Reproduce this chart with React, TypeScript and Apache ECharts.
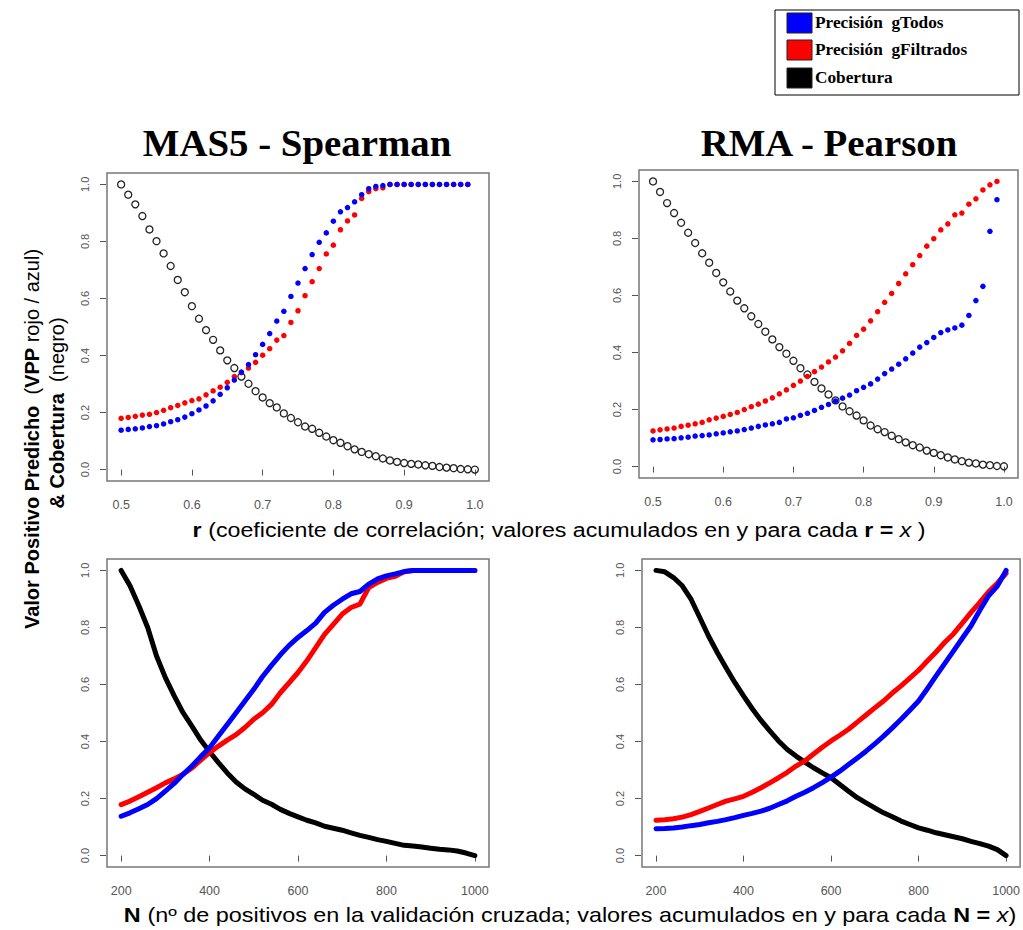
import React, { useEffect, useRef } from 'react';
import * as echarts from 'echarts';

// ---------- data ----------
const rValues = [
  0.50, 0.51, 0.52, 0.53, 0.54, 0.55, 0.56, 0.57, 0.58, 0.59,
  0.60, 0.61, 0.62, 0.63, 0.64, 0.65, 0.66, 0.67, 0.68, 0.69,
  0.70, 0.71, 0.72, 0.73, 0.74, 0.75, 0.76, 0.77, 0.78, 0.79,
  0.80, 0.81, 0.82, 0.83, 0.84, 0.85, 0.86, 0.87, 0.88, 0.89,
  0.90, 0.91, 0.92, 0.93, 0.94, 0.95, 0.96, 0.97, 0.98, 0.99, 1.00,
];

const nValues = [
  200, 220, 240, 260, 280, 300, 320, 340, 360, 380,
  400, 420, 440, 460, 480, 500, 520, 540, 560, 580,
  600, 620, 640, 660, 680, 700, 720, 740, 760, 780,
  800, 820, 840, 860, 880, 900, 920, 940, 960, 980, 1000,
];

const rTicks = [0.5, 0.6, 0.7, 0.8, 0.9, 1.0];
const nTicks = [200, 400, 600, 800, 1000];
const yTicks = [0, 0.2, 0.4, 0.6, 0.8, 1.0];

// MAS5 - Spearman (top left)
const masCobertura = [
  1.0, 0.964, 0.930, 0.889, 0.842, 0.801, 0.758, 0.714, 0.665, 0.622,
  0.573, 0.529, 0.489, 0.455, 0.418, 0.383, 0.356, 0.326, 0.301, 0.275,
  0.253, 0.233, 0.218, 0.197, 0.181, 0.166, 0.151, 0.143, 0.129, 0.116,
  0.103, 0.094, 0.082, 0.071, 0.062, 0.054, 0.047, 0.039, 0.032, 0.027,
  0.023, 0.020, 0.018, 0.015, 0.013, 0.009, 0.007, 0.005, 0.002, 0.001, 0.0,
];
const masFiltrados = [
  0.180, 0.183, 0.187, 0.191, 0.194, 0.200, 0.208, 0.217, 0.225, 0.234,
  0.242, 0.248, 0.262, 0.276, 0.289, 0.306, 0.326, 0.340, 0.356, 0.376,
  0.401, 0.424, 0.454, 0.470, 0.516, 0.557, 0.610, 0.659, 0.705, 0.756,
  0.787, 0.841, 0.872, 0.893, 0.951, 0.975, 0.985, 0.988, 1.0, 1.0,
  1.0, 1.0, 1.0, 1.0, 1.0, 1.0, 1.0, 1.0, 1.0, 1.0,
];
const masTodos = [
  0.138, 0.141, 0.143, 0.146, 0.151, 0.154, 0.160, 0.168, 0.175, 0.184,
  0.196, 0.209, 0.223, 0.241, 0.264, 0.287, 0.314, 0.342, 0.368, 0.403,
  0.439, 0.477, 0.521, 0.555, 0.607, 0.654, 0.705, 0.754, 0.797, 0.830,
  0.871, 0.904, 0.919, 0.939, 0.964, 0.985, 0.993, 0.996, 1.0, 1.0,
  1.0, 1.0, 1.0, 1.0, 1.0, 1.0, 1.0, 1.0, 1.0, 1.0,
];

// RMA - Pearson (top right)
const rmaCobertura = [
  1.0, 0.963, 0.924, 0.889, 0.855, 0.820, 0.784, 0.748, 0.715, 0.679,
  0.646, 0.614, 0.582, 0.555, 0.527, 0.500, 0.473, 0.446, 0.419, 0.396,
  0.371, 0.345, 0.323, 0.297, 0.274, 0.253, 0.232, 0.211, 0.194, 0.179,
  0.162, 0.144, 0.131, 0.121, 0.108, 0.096, 0.085, 0.075, 0.067, 0.056,
  0.048, 0.040, 0.032, 0.025, 0.019, 0.014, 0.011, 0.007, 0.005, 0.002, 0.001,
];
const rmaFiltrados = [
  0.125, 0.129, 0.132, 0.135, 0.141, 0.145, 0.150, 0.155, 0.164, 0.170,
  0.176, 0.183, 0.190, 0.200, 0.210, 0.219, 0.230, 0.241, 0.255, 0.269,
  0.285, 0.300, 0.316, 0.333, 0.349, 0.367, 0.384, 0.406, 0.432, 0.460,
  0.482, 0.511, 0.543, 0.576, 0.607, 0.642, 0.676, 0.708, 0.740, 0.773,
  0.799, 0.830, 0.851, 0.883, 0.889, 0.920, 0.939, 0.970, 0.988, 1.0,
];
const rmaTodos = [
  0.094, 0.095, 0.097, 0.098, 0.101, 0.103, 0.107, 0.109, 0.111, 0.115,
  0.118, 0.122, 0.125, 0.130, 0.135, 0.141, 0.146, 0.150, 0.155, 0.167,
  0.171, 0.180, 0.187, 0.197, 0.208, 0.218, 0.230, 0.240, 0.251, 0.266,
  0.278, 0.290, 0.307, 0.326, 0.342, 0.359, 0.378, 0.398, 0.419, 0.435,
  0.453, 0.470, 0.479, 0.486, 0.496, 0.530, 0.582, 0.632, 0.825, 0.936,
];

// MAS5 - Spearman, N (bottom left)
const masNCobertura = [
  1.0, 0.946, 0.876, 0.800, 0.700, 0.624, 0.560, 0.501, 0.454, 0.405,
  0.364, 0.326, 0.290, 0.258, 0.234, 0.215, 0.194, 0.180, 0.162, 0.148,
  0.136, 0.124, 0.115, 0.103, 0.096, 0.089, 0.080, 0.071, 0.064, 0.056,
  0.050, 0.043, 0.036, 0.034, 0.030, 0.026, 0.022, 0.020, 0.016, 0.009, 0.0,
];
const masNFiltrados = [
  0.179, 0.191, 0.206, 0.222, 0.238, 0.255, 0.269, 0.285, 0.307, 0.335,
  0.361, 0.384, 0.405, 0.424, 0.449, 0.478, 0.501, 0.530, 0.571, 0.606,
  0.642, 0.683, 0.729, 0.776, 0.811, 0.847, 0.870, 0.882, 0.940, 0.958,
  0.972, 0.979, 0.995, 1.0, 1.0, 1.0, 1.0, 1.0, 1.0, 1.0, 1.0,
];
const masNTodos = [
  0.138, 0.150, 0.164, 0.179, 0.200, 0.226, 0.253, 0.285, 0.314, 0.347,
  0.378, 0.419, 0.460, 0.501, 0.542, 0.583, 0.628, 0.667, 0.704, 0.737,
  0.765, 0.789, 0.815, 0.853, 0.878, 0.899, 0.918, 0.926, 0.952, 0.970,
  0.981, 0.988, 0.996, 1.0, 1.0, 1.0, 1.0, 1.0, 1.0, 1.0, 1.0,
];

// RMA - Pearson, N (bottom right)
const rmaNCobertura = [
  1.0, 0.995, 0.975, 0.946, 0.899, 0.835, 0.770, 0.712, 0.659, 0.607,
  0.560, 0.515, 0.474, 0.437, 0.402, 0.372, 0.349, 0.328, 0.308, 0.290,
  0.273, 0.249, 0.226, 0.203, 0.185, 0.167, 0.150, 0.136, 0.121, 0.109,
  0.097, 0.089, 0.080, 0.073, 0.066, 0.059, 0.050, 0.042, 0.033, 0.021, 0.0,
];
const rmaNFiltrados = [
  0.124, 0.126, 0.129, 0.135, 0.144, 0.155, 0.167, 0.179, 0.191, 0.199,
  0.208, 0.222, 0.238, 0.255, 0.273, 0.292, 0.314, 0.332, 0.356, 0.380,
  0.402, 0.422, 0.443, 0.468, 0.493, 0.518, 0.542, 0.570, 0.595, 0.622,
  0.650, 0.682, 0.714, 0.748, 0.778, 0.815, 0.853, 0.888, 0.925, 0.955, 0.990,
];
const rmaNTodos = [
  0.094, 0.095, 0.097, 0.100, 0.105, 0.109, 0.115, 0.120, 0.126, 0.133,
  0.141, 0.148, 0.156, 0.166, 0.179, 0.192, 0.208, 0.222, 0.238, 0.256,
  0.275, 0.296, 0.319, 0.342, 0.366, 0.392, 0.419, 0.448, 0.478, 0.510,
  0.542, 0.585, 0.630, 0.674, 0.718, 0.762, 0.806, 0.860, 0.911, 0.945, 1.0,
];

const titles = ['MAS5 - Spearman', 'RMA - Pearson'];
const legendLabels = ['Precisión  gTodos', 'Precisión  gFiltrados', 'Cobertura'];
const colors = { todos: '#0000ff', filtrados: '#ff0000', cobertura: '#000000' };

// ---------- helpers ----------
const zip = (xs: number[], ys: number[]) => ys.map((y, i) => [xs[i], y]);

const SANS = 'Liberation Sans, Arial, sans-serif';
const SERIF = 'Liberation Serif, Times New Roman, serif';

const gridBoxes = [
  { left: 107, top: 173, width: 382, height: 308 },
  { left: 639, top: 170, width: 379, height: 308 },
  { left: 107, top: 559, width: 382, height: 308 },
  { left: 642, top: 559, width: 379, height: 308 },
];

function makeXAxis(i: number, isR: boolean) {
  const ticks = isR ? rTicks : nTicks;
  return {
    gridIndex: i,
    type: 'value',
    min: isR ? 0.48 : 168,
    max: isR ? 1.02 : 1032,
    offset: 1,
    axisLine: { show: false },
    splitLine: { show: false },
    axisTick: { show: true, length: 6, customValues: ticks, lineStyle: { color: '#555', width: 1 } },
    axisLabel: {
      customValues: ticks,
      formatter: (v: number) => (isR ? v.toFixed(1) : String(v)),
      fontSize: 12.5,
      color: '#555',
      fontFamily: SANS,
      margin: 16,
    },
  };
}

function makeYAxis(i: number) {
  return {
    gridIndex: i,
    type: 'value',
    min: -0.04,
    max: 1.04,
    offset: 1,
    axisLine: { show: false },
    splitLine: { show: false },
    axisTick: { show: true, length: 6, customValues: yTicks, lineStyle: { color: '#555', width: 1 } },
    axisLabel: {
      customValues: yTicks,
      rotate: 90,
      formatter: (v: number) => v.toFixed(1),
      fontSize: 11,
      color: '#555',
      fontFamily: SANS,
      margin: 16,
    },
  };
}

function scatterSeries(i: number, data: number[][], kind: 'todos' | 'filtrados' | 'cobertura') {
  if (kind === 'cobertura') {
    return {
      type: 'scatter',
      xAxisIndex: i,
      yAxisIndex: i,
      data,
      symbol: 'circle',
      symbolSize: 7,
      itemStyle: { color: 'rgba(255,255,255,0)', borderColor: '#222', borderWidth: 1.3, opacity: 1 },
      silent: true,
    };
  }
  return {
    type: 'scatter',
    xAxisIndex: i,
    yAxisIndex: i,
    data,
    symbol: 'circle',
    symbolSize: 5.5,
    itemStyle: { color: colors[kind], opacity: 1 },
    silent: true,
  };
}

function lineSeries(i: number, data: number[][], kind: 'todos' | 'filtrados' | 'cobertura') {
  return {
    type: 'line',
    xAxisIndex: i,
    yAxisIndex: i,
    data,
    showSymbol: false,
    smooth: false,
    lineStyle: { color: colors[kind], width: 5, cap: 'round', join: 'round' },
    silent: true,
  };
}

export default function App() {
  const ref = useRef<HTMLDivElement>(null);

  useEffect(() => {
    if (!ref.current) return;
    const chart = echarts.init(ref.current, null, { renderer: 'svg' });

    const legendSwatchY = [13, 40, 68];
    const legendColors = [colors.todos, colors.filtrados, colors.cobertura];

    const legendGraphics: any[] = [
      {
        type: 'rect',
        shape: { x: 775, y: 10, width: 244, height: 85 },
        style: { fill: '#fff', stroke: '#000', lineWidth: 1 },
      },
    ];
    legendLabels.forEach((lab, k) => {
      legendGraphics.push({
        type: 'rect',
        shape: { x: 787, y: legendSwatchY[k], width: 25, height: 20 },
        style: { fill: legendColors[k], stroke: '#222', lineWidth: 1 },
      });
      legendGraphics.push({
        type: 'text',
        x: 815,
        y: legendSwatchY[k] + 10,
        scaleX: 1.08,
        style: {
          text: lab,
          fontSize: 16,
          fontWeight: 'bold',
          fontFamily: SERIF,
          fill: '#000',
          align: 'left',
          verticalAlign: 'middle',
          textAlign: 'left',
          textVerticalAlign: 'middle',
        },
      });
    });

    const titleGraphics = [
      { x: 297, y: 143, text: titles[0] },
      { x: 829, y: 143, text: titles[1] },
    ].map((t) => ({
      type: 'text',
      x: t.x,
      y: t.y,
      scaleX: 1.05,
      style: {
        text: t.text,
        fontSize: 37,
        fontWeight: 'bold',
        fontFamily: SERIF,
        fill: '#000',
        align: 'center',
        verticalAlign: 'middle',
        textAlign: 'center',
        textVerticalAlign: 'middle',
      },
    }));

    const rich = {
      b: { fontWeight: 'bold', fontSize: 20, fontFamily: SANS, fill: '#000', color: '#000' },
      n: { fontWeight: 'normal', fontSize: 20, fontFamily: SANS, fill: '#000', color: '#000' },
      i: { fontStyle: 'italic', fontSize: 20, fontFamily: SANS, fill: '#000', color: '#000' },
    };

    const axisTitleGraphics = [
      {
        type: 'text',
        x: 559,
        y: 530,
        scaleX: 1.16,
        style: {
          text: '{b|r} {n|(coeficiente de correlación; valores acumulados en y para cada }{b|r =} {i|x} {n|)}',
          rich,
          fontSize: 20,
          fontFamily: SANS,
          fill: '#000',
          align: 'center',
          verticalAlign: 'middle',
          textAlign: 'center',
          textVerticalAlign: 'middle',
        },
      },
      {
        type: 'text',
        x: 570,
        y: 915,
        scaleX: 1.17,
        style: {
          text: '{b|N} {n|(nº de positivos en la validación cruzada; valores acumulados en y para cada }{b|N =} {i|x}{n|)}',
          rich,
          fontSize: 20,
          fontFamily: SANS,
          fill: '#000',
          align: 'center',
          verticalAlign: 'middle',
          textAlign: 'center',
          textVerticalAlign: 'middle',
        },
      },
      {
        type: 'text',
        x: 32,
        y: 439,
        rotation: Math.PI / 2,
        style: {
          text: '{b|Valor Positivo Predicho}{n|  (}{b|VPP}{n| rojo / azul)}',
          rich,
          fontSize: 20,
          fontFamily: SANS,
          fill: '#000',
          align: 'center',
          verticalAlign: 'middle',
          textAlign: 'center',
          textVerticalAlign: 'middle',
        },
      },
      {
        type: 'text',
        x: 57,
        y: 413,
        rotation: Math.PI / 2,
        style: {
          text: '{b|& Cobertura}{n|  (negro)}',
          rich,
          fontSize: 20,
          fontFamily: SANS,
          fill: '#000',
          align: 'center',
          verticalAlign: 'middle',
          textAlign: 'center',
          textVerticalAlign: 'middle',
        },
      },
    ];

    const option: any = {
      animation: false,
      backgroundColor: '#ffffff',
      grid: gridBoxes.map((g) => ({
        ...g,
        show: true,
        borderColor: '#777',
        borderWidth: 1.5,
        backgroundColor: 'transparent',
        containLabel: false,
      })),
      xAxis: [makeXAxis(0, true), makeXAxis(1, true), makeXAxis(2, false), makeXAxis(3, false)],
      yAxis: [makeYAxis(0), makeYAxis(1), makeYAxis(2), makeYAxis(3)],
      series: [
        scatterSeries(0, zip(rValues, masCobertura), 'cobertura'),
        scatterSeries(0, zip(rValues, masFiltrados), 'filtrados'),
        scatterSeries(0, zip(rValues, masTodos), 'todos'),
        scatterSeries(1, zip(rValues, rmaCobertura), 'cobertura'),
        scatterSeries(1, zip(rValues, rmaFiltrados), 'filtrados'),
        scatterSeries(1, zip(rValues, rmaTodos), 'todos'),
        lineSeries(2, zip(nValues, masNCobertura), 'cobertura'),
        lineSeries(2, zip(nValues, masNFiltrados), 'filtrados'),
        lineSeries(2, zip(nValues, masNTodos), 'todos'),
        lineSeries(3, zip(nValues, rmaNCobertura), 'cobertura'),
        lineSeries(3, zip(nValues, rmaNFiltrados), 'filtrados'),
        lineSeries(3, zip(nValues, rmaNTodos), 'todos'),
      ],
      graphic: { elements: [...legendGraphics, ...titleGraphics, ...axisTitleGraphics] },
    };

    chart.setOption(option);
    return () => {
      chart.dispose();
    };
  }, []);

  return (
    <div
      ref={ref}
      style={{ position: 'absolute', left: 0, top: 0, width: 1023, height: 930, background: '#fff' }}
    />
  );
}
